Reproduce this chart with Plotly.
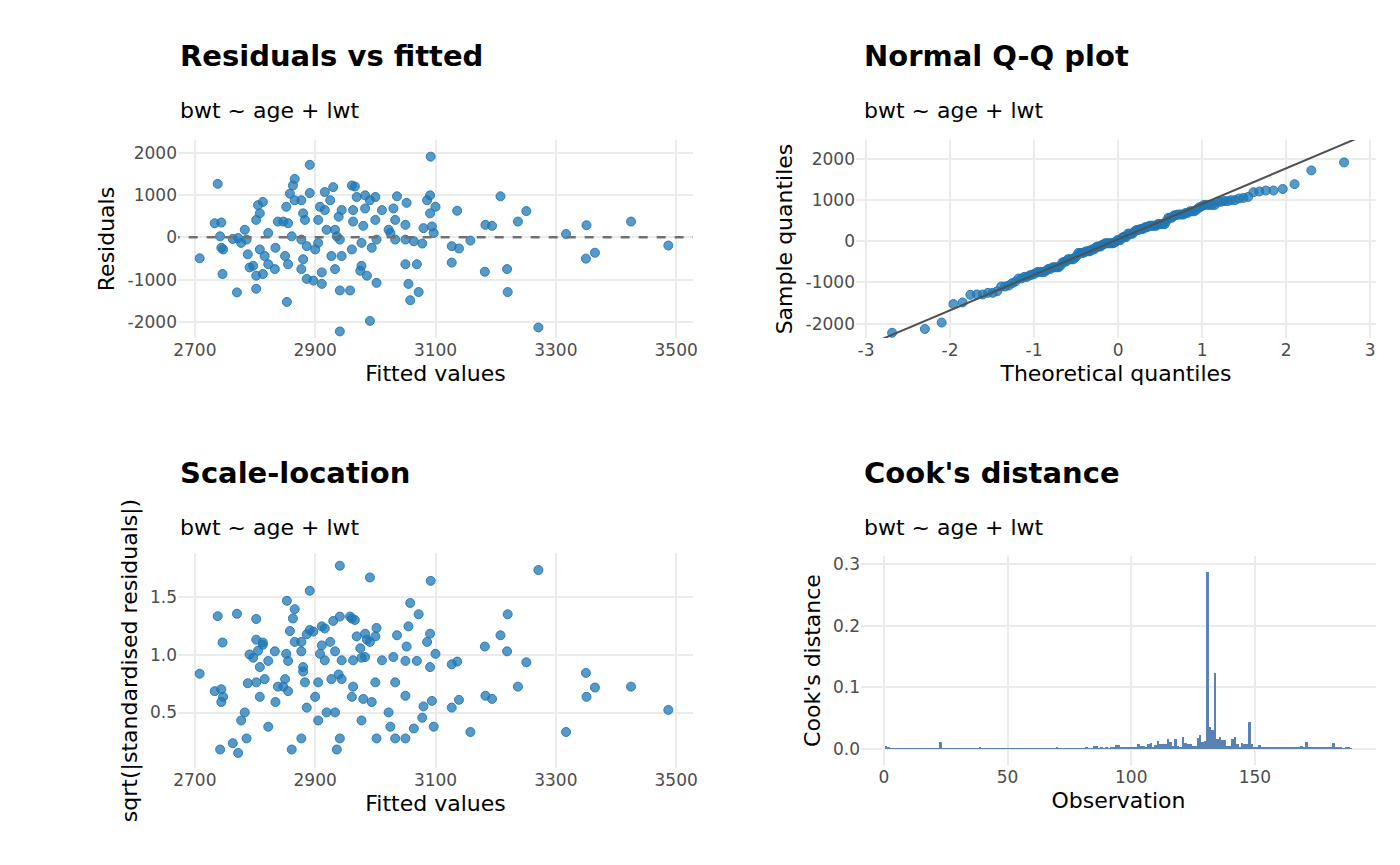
import numpy as np
import plotly.graph_objects as go
from statistics import NormalDist

# Fitted values and residuals
fitted = [2708, 2738, 2733, 2744, 2742, 2744, 2747, 2746, 2770, 2763, 2772, 2783, 2777, 2786,
          2788, 2791, 2797, 2802, 2805, 2813, 2808, 2802, 2822, 2808, 2816, 2813, 2802, 2822,
          2833, 2834, 2850, 2855, 2853, 2861, 2852, 2858, 2866, 2863, 2866, 2877, 2847, 2838,
          2855, 2880, 2883, 2877, 2886, 2880, 2877, 2886, 2897, 2911, 2911, 2900, 2905, 2891,
          2891, 2916, 2930, 2925, 2908, 2916, 2905, 2919, 2933, 2941, 2936, 2944, 2939, 2944,
          2927, 2933, 2941, 2958, 2941, 2961, 2966, 2969, 2963, 2963, 2980, 2983, 3000, 2991,
          2983, 3000, 3011, 3030, 3033, 3036, 3052, 3022, 3025, 3033, 3050, 3050, 3002, 2994,
          2977, 2961, 2977, 2975, 2986, 3002, 2991, 3050, 3069, 3055, 3072, 3058, 3064, 3078,
          3080, 3086, 3091, 3100, 3091, 3094, 3097, 3092, 3136, 3127, 3139, 3127, 3158, 3183,
          3194, 3208, 3182, 3219, 3220, 3237, 3251, 3271, 3317, 3351, 3350, 3365, 3425, 3487]
resid = [-496, 1263, 333, 349, 23, -248, -287, -868, -1302, -39, -16, 178, -132, -54,
         -403, -713, -674, -1217, 760, 837, 566, 411, 101, -287, -442, -868, -907, -636,
         -752, -248, -442, -636, -1527, 23, 721, 1031, 1380, 1225, 876, 876, 372, 372,
         333, 566, 411, -54, -209, -519, -752, -984, -1023, -1101, -829, -287, -132, 1713,
         1046, 1070, 1186, 876, 721, 643, 411, 178, 178, -54, 23, 643, 488, -442,
         -442, -752, -1256, -1256, -2224, 1225, 1201, 953, 643, 372, 271, 992, 953, 876,
         682, 411, 643, 682, 411, 969, 814, 178, 101, -54, 295, -54, -54, -248,
         -132, -287, -674, -791, -907, -1077, -1976, -636, -636, -1101, -1294, -1488, -93, -147,
         217, 876, 992, 721, 566, 256, 101, 1907, 628, -209, -264, -597, -78, 295,
         271, 969, -814, -752, -1294, 372, 620, -2131, 78, 287, -504, -364, 372, -194]
resid_sd = 710

# Cook's distance per observation (1..189)
cooks = [0.005, 0.004, 0.0005, 0.0005, 0.0005, 0.0005, 0.0005, 0.0005, 0.0005, 0.0005,
         0.0005, 0.0005, 0.0005, 0.0005, 0.0005, 0.0005, 0.0005, 0.0005, 0.0005, 0.0005,
         0.0005, 0.0005, 0.011, 0.0005, 0.0005, 0.0005, 0.0005, 0.0005, 0.0005, 0.0005,
         0.0005, 0.0005, 0.0005, 0.0005, 0.0005, 0.0005, 0.0005, 0.0005, 0.004, 0.0005,
         0.0005, 0.0005, 0.0005, 0.0005, 0.001, 0.0005, 0.001, 0.0005, 0.0005, 0.0005,
         0.001, 0.0005, 0.0005, 0.001, 0.0005, 0.001, 0.001, 0.001, 0.0005, 0.0005,
         0.0005, 0.0005, 0.0005, 0.001, 0.0005, 0.0005, 0.001, 0.0005, 0.001, 0.002,
         0.001, 0.001, 0.001, 0.001, 0.001, 0.001, 0.001, 0.001, 0.001, 0.001,
         0.001, 0.004, 0.001, 0.001, 0.005, 0.005, 0.001, 0.002, 0.001, 0.002,
         0.001, 0.002, 0.003, 0.006, 0.006, 0.003, 0.003, 0.003, 0.003, 0.003,
         0.004, 0.004, 0.008, 0.005, 0.005, 0.003, 0.008, 0.010, 0.004, 0.006,
         0.013, 0.008, 0.008, 0.008, 0.016, 0.011, 0.005, 0.016, 0.005, 0.004,
         0.020, 0.009, 0.008, 0.008, 0.005, 0.005, 0.018, 0.022, 0.012, 0.013,
         0.287, 0.035, 0.030, 0.124, 0.016, 0.020, 0.014, 0.014, 0.005, 0.005,
         0.016, 0.020, 0.008, 0.003, 0.009, 0.008, 0.008, 0.043, 0.008, 0.004,
         0.003, 0.006, 0.003, 0.003, 0.003, 0.003, 0.004, 0.003, 0.002, 0.003,
         0.003, 0.002, 0.003, 0.002, 0.004, 0.002, 0.002, 0.002, 0.005, 0.002,
         0.011, 0.002, 0.002, 0.002, 0.003, 0.002, 0.002, 0.002, 0.002, 0.002,
         0.002, 0.009, 0.002, 0.002, 0.002, 0.001, 0.002, 0.002, 0.001]

fitted = np.array(fitted)
resid = np.array(resid)
sqrt_std = np.sqrt(np.abs(resid) / resid_sd)

# Q-Q values
n = len(resid)
sample_q = np.sort(resid)
nd = NormalDist()
theo_q = np.array([nd.inv_cdf((i + 0.5) / n) for i in range(n)])
q1, q3 = np.percentile(resid, [25, 75])
slope = (q3 - q1) / (nd.inv_cdf(0.75) - nd.inv_cdf(0.25))
icept = q1 - slope * nd.inv_cdf(0.25)
line_x = np.array([-3.5, 3.5])

W, H = 1400, 865
def px(a, b):
    return [a / W, b / W]
def py(top, bot):
    return [(H - bot) / H, (H - top) / H]

pt = dict(size=9, color='rgba(31,119,180,0.75)', line=dict(color='rgba(31,119,180,0.9)', width=1))
font = 'DejaVu Sans'
fig = go.Figure()
fig.add_trace(go.Scatter(x=fitted, y=resid, mode='markers', marker=pt, xaxis='x', yaxis='y'))
fig.add_trace(go.Scatter(x=[2600, 3600], y=[0, 0], mode='lines',
                         line=dict(color='#707070', dash='dash', width=2.5), xaxis='x', yaxis='y'))
fig.add_trace(go.Scatter(x=theo_q, y=sample_q, mode='markers', marker=pt, xaxis='x2', yaxis='y2'))
fig.add_trace(go.Scatter(x=line_x, y=icept + slope * line_x, mode='lines',
                         line=dict(color='#505050', width=2), xaxis='x2', yaxis='y2'))
fig.add_trace(go.Scatter(x=fitted, y=sqrt_std, mode='markers', marker=pt, xaxis='x3', yaxis='y3'))
fig.add_trace(go.Bar(x=list(range(1, len(cooks) + 1)), y=cooks, marker=dict(color='#5b82b3', line_width=0),
                     width=0.8, xaxis='x4', yaxis='y4'))

tickf = dict(family=font, size=17, color='#4d4d4d')
titf = dict(family=font, size=22, color='black')
ax = dict(showgrid=True, gridcolor='#ebebeb', gridwidth=2, zeroline=False, showline=False,
          tickfont=tickf, ticks='', title_font=titf, automargin=False)

def labels(vals):
    return [str(v) for v in vals]

fit_ticks = [2700, 2900, 3100, 3300, 3500]
res_ticks = [-2000, -1000, 0, 1000, 2000]
qq_ticks = [-3, -2, -1, 0, 1, 2, 3]

fig.update_layout(
    width=W, height=H, showlegend=False, plot_bgcolor='white', paper_bgcolor='white',
    margin=dict(l=0, r=0, t=0, b=0), font=dict(family=font),
    xaxis=dict(ax, domain=px(170, 685), range=[2672, 3528], tickvals=fit_ticks, ticktext=labels(fit_ticks),
               title=dict(text='Fitted values', standoff=6), anchor='y'),
    yaxis=dict(ax, domain=py(132, 330), range=[-2380, 2300], tickvals=res_ticks, ticktext=labels(res_ticks),
               title=dict(text='Residuals', standoff=6), anchor='x'),
    xaxis2=dict(ax, domain=px(848, 1368), range=[-3.12, 3.07], tickvals=qq_ticks, ticktext=labels(qq_ticks),
                title=dict(text='Theoretical quantiles', standoff=6), anchor='y2'),
    yaxis2=dict(ax, domain=py(132, 330), range=[-2350, 2450], tickvals=res_ticks, ticktext=labels(res_ticks),
                title=dict(text='Sample quantiles', standoff=6), anchor='x2'),
    xaxis3=dict(ax, domain=px(170, 685), range=[2672, 3528], tickvals=fit_ticks, ticktext=labels(fit_ticks),
                title=dict(text='Fitted values', standoff=6), anchor='y3'),
    yaxis3=dict(ax, domain=py(545, 760), range=[0.02, 1.88], tickvals=[0.5, 1.0, 1.5], tickformat='.1f',
                title=dict(text='sqrt(|standardised residuals|)', standoff=6), anchor='x3'),
    xaxis4=dict(ax, domain=px(853, 1368), range=[-9.3, 199], tickvals=[0, 50, 100, 150],
                title=dict(text='Observation', standoff=6), anchor='y4'),
    yaxis4=dict(ax, domain=py(548, 757), range=[-0.026, 0.313], tickvals=[0, 0.1, 0.2, 0.3], tickformat='.1f',
                title=dict(text="Cook's distance", standoff=6), anchor='x4'),
    bargap=0,
)

titles = [("Residuals vs fitted", 170, 48), ("Normal Q-Q plot", 854, 48),
          ("Scale-location", 170, 465), ("Cook's distance", 854, 465)]
for t, x0, y0 in titles:
    fig.add_annotation(text='<b>%s</b>' % t, x=x0 / W, y=(H - y0) / H, xref='paper', yref='paper',
                       xanchor='left', yanchor='middle', showarrow=False,
                       font=dict(family=font, size=29, color='black'))
    fig.add_annotation(text='bwt ~ age + lwt', x=x0 / W, y=(H - y0 - 54) / H, xref='paper', yref='paper',
                       xanchor='left', yanchor='middle', showarrow=False,
                       font=dict(family=font, size=22, color='black'))

fig.write_html("out.html")
